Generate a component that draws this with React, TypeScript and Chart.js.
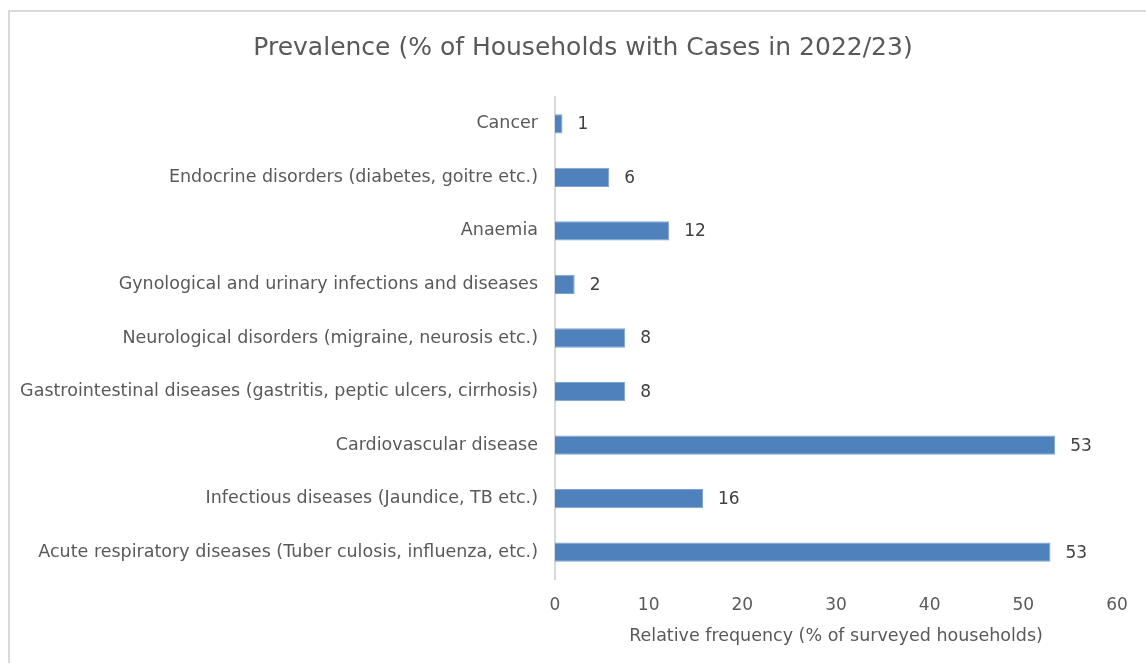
import React, { useEffect, useRef } from "react";
import { Chart, registerables } from "chart.js";

Chart.register(...registerables);

const TITLE = "Prevalence (% of Households with Cases in 2022/23)";

const categories = [
  "Cancer",
  "Endocrine disorders (diabetes, goitre etc.)",
  "Anaemia",
  "Gynological and urinary infections and diseases",
  "Neurological disorders (migraine, neurosis etc.)",
  "Gastrointestinal diseases (gastritis, peptic ulcers, cirrhosis)",
  "Cardiovascular disease",
  "Infectious diseases (Jaundice, TB etc.)",
  "Acute respiratory diseases (Tuber culosis, influenza, etc.)",
];

// Share of surveyed households reporting each condition (%)
const prevalence = [0.8, 5.8, 12.2, 2.1, 7.5, 7.5, 53.4, 15.8, 52.9];

const xTicks = [0, 10, 20, 30, 40, 50, 60];

const FONT = "'DejaVu Sans', sans-serif";
const TEXT = "#595959";
const LABEL_SIZE = 17.5;

// Title centred across the whole chart box
const boxTitle = {
  id: "boxTitle",
  afterDraw(chart: any) {
    const { ctx } = chart;
    ctx.save();
    ctx.font = `25px ${FONT}`;
    ctx.fillStyle = TEXT;
    ctx.textAlign = "center";
    ctx.textBaseline = "middle";
    ctx.fillText(TITLE, chart.width / 2, 36);
    ctx.restore();
  },
};

// Writes the rounded value just past the end of each bar
const valueLabels = {
  id: "valueLabels",
  afterDatasetsDraw(chart: any) {
    const { ctx } = chart;
    const meta = chart.getDatasetMeta(0);
    ctx.save();
    ctx.font = `17px ${FONT}`;
    ctx.fillStyle = "#404040";
    ctx.textAlign = "left";
    ctx.textBaseline = "middle";
    meta.data.forEach((bar: any, i: number) => {
      const v = chart.data.datasets[0].data[i] as number;
      ctx.fillText(v.toFixed(0), bar.x + 15, bar.y + 1);
    });
    ctx.restore();
  },
};

export default function App() {
  const ref = useRef<HTMLCanvasElement | null>(null);

  useEffect(() => {
    if (!ref.current) return;
    const chart = new Chart(ref.current, {
      type: "bar",
      data: {
        labels: categories,
        datasets: [
          {
            data: prevalence,
            backgroundColor: "#4F81BD",
            borderColor: "#7FA3D0",
            borderWidth: 1,
            barPercentage: 0.72,
            categoryPercentage: 0.5,
          },
        ],
      },
      options: {
        indexAxis: "y",
        responsive: false,
        animation: false,
        layout: { padding: { left: 0, right: 39, top: 85, bottom: 0 } },
        plugins: {
          legend: { display: false },
          tooltip: { enabled: false },
          title: { display: false },
        },
        scales: {
          x: {
            min: 0,
            max: 60,
            afterBuildTicks(axis: any) {
              axis.ticks = xTicks.map((v) => ({ value: v }));
            },
            afterFit(axis: any) {
              axis.height = 84;
            },
            grid: { display: false, drawTicks: false },
            border: { display: false },
            ticks: {
              color: TEXT,
              padding: 16,
              font: { family: FONT, size: 17 },
            },
            title: {
              display: true,
              text: "Relative frequency (% of surveyed households)",
              color: TEXT,
              font: { family: FONT, size: LABEL_SIZE },
              padding: { top: 8, bottom: 16 },
            },
          },
          y: {
            afterFit(axis: any) {
              axis.width = 545;
            },
            grid: { display: false, drawTicks: false },
            border: { display: true, color: "#D9D9D9", width: 2 },
            ticks: {
              color: TEXT,
              padding: 17,
              font: { family: FONT, size: LABEL_SIZE },
              autoSkip: false,
            },
          },
        },
      },
      plugins: [valueLabels, boxTitle],
    });
    return () => chart.destroy();
  }, []);

  return (
    <div
      style={{
        position: "fixed",
        left: 8,
        top: 10,
        width: 1146,
        height: 651,
        borderTop: "2px solid #D9D9D9",
        borderLeft: "2px solid #D9D9D9",
        background: "#fff",
      }}
    >
      <canvas ref={ref} width={1146} height={651} style={{ display: "block" }} />
    </div>
  );
}
